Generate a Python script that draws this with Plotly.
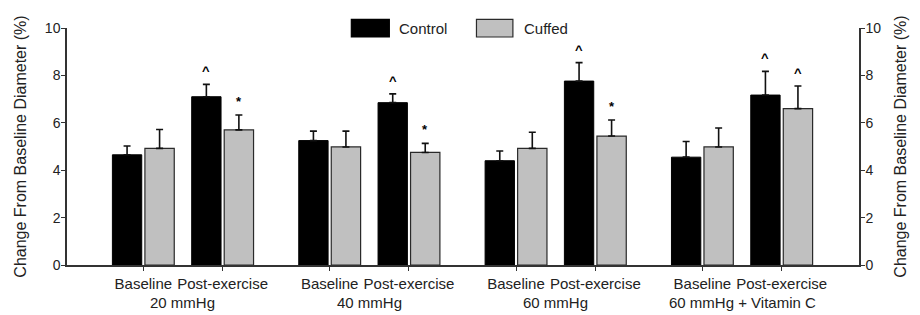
import plotly.graph_objects as go

# ---------------- data ----------------
groups = ["20 mmHg", "40 mmHg", "60 mmHg", "60 mmHg + Vitamin C"]
phases = ["Baseline", "Post-exercise"]

control = [4.65, 7.10, 5.25, 6.85, 4.40, 7.76, 4.55, 7.17]
control_err = [0.37, 0.52, 0.40, 0.37, 0.41, 0.78, 0.66, 1.00]
cuffed = [4.92, 5.70, 4.98, 4.75, 4.92, 5.44, 4.98, 6.60]
cuffed_err = [0.80, 0.63, 0.67, 0.38, 0.68, 0.68, 0.80, 0.95]
control_sig = ["", "^", "", "^", "", "^", "", "^"]
cuffed_sig = ["", "*", "", "*", "", "*", "", "^"]

y_ticks = [0, 2, 4, 6, 8, 10]
y_title = "Change From Baseline Diameter (%)"

# ---------------- layout helpers ----------------
GROUP_STEP = 2.35
BAR_W = 0.37
FONT = "Liberation Sans, Arial, sans-serif"
AXIS_COL = "#333333"
TEXT_COL = "#222222"

xpos = [g * GROUP_STEP + p for g in range(len(groups)) for p in range(len(phases))]
xlabels = [ph for _ in groups for ph in phases]

fig = go.Figure()

fig.add_trace(go.Bar(
    name="Control", x=xpos, y=control,
    width=BAR_W, offset=-0.39,
    marker=dict(color="#000000", line=dict(color="#000000", width=1)),
    error_y=dict(type="data", array=control_err, arrayminus=[0] * len(control),
                 symmetric=False, color="#111111", thickness=1.6, width=3.5),
    hoverinfo="x+y",
))
fig.add_trace(go.Bar(
    name="Cuffed", x=xpos, y=cuffed,
    width=BAR_W, offset=0.02,
    marker=dict(color="#c0c0c0", line=dict(color="#2a2a2a", width=1.2)),
    error_y=dict(type="data", array=cuffed_err, arrayminus=[0] * len(cuffed),
                 symmetric=False, color="#111111", thickness=1.6, width=3.5),
    hoverinfo="x+y",
))
# invisible trace so the right-hand axis is drawn
fig.add_trace(go.Scatter(x=[xpos[0]], y=[0], yaxis="y2", mode="markers",
                         marker=dict(opacity=0), showlegend=False, hoverinfo="skip"))

annotations = []
# significance markers
for i, x in enumerate(xpos):
    for vals, errs, sig, off in ((control, control_err, control_sig, -0.39),
                                 (cuffed, cuffed_err, cuffed_sig, 0.02)):
        if sig[i]:
            annotations.append(dict(
                x=x + off + BAR_W / 2, y=vals[i] + errs[i], xref="x", yref="y",
                text="<b>" + sig[i] + "</b>", showarrow=False, yanchor="bottom", yshift=4,
                font=dict(family=FONT, size=13, color="#000000")))
# group labels
for g, name in enumerate(groups):
    annotations.append(dict(
        x=g * GROUP_STEP + 0.5, y=0, xref="x", yref="paper",
        text=name, showarrow=False, yanchor="middle", yshift=-37,
        font=dict(family=FONT, size=15, color=TEXT_COL)))

# custom legend (wide rectangles like the original)
legend_items = [("Control", "#000000", "#000000", 0.359, 0.407, 0.417),
                ("Cuffed", "#c0c0c0", "#2a2a2a", 0.517, 0.563, 0.5745)]
shapes = []
for name, fill, line, x0, x1, xt in legend_items:
    shapes.append(dict(type="rect", xref="paper", yref="paper",
                       x0=x0, x1=x1, y0=0.962, y1=1.036,
                       fillcolor=fill, line=dict(color=line, width=1.2)))
    annotations.append(dict(x=xt, y=1.0, xref="paper", yref="paper", text=name,
                            showarrow=False, xanchor="left", yanchor="middle",
                            font=dict(family=FONT, size=15, color=TEXT_COL)))

axis_common = dict(range=[0, 10], tickvals=y_ticks, ticks="outside", ticklen=4,
                   tickwidth=1.3, tickcolor=AXIS_COL, showline=True, linecolor=AXIS_COL,
                   linewidth=1.5, showgrid=False, zeroline=False,
                   tickfont=dict(family=FONT, size=14, color=TEXT_COL),
                   title=dict(text=y_title, font=dict(family=FONT, size=16, color=TEXT_COL),
                              standoff=14))

# page body has an 8px default margin, so the figure is 8px smaller than the window
fig.update_layout(
    width=912, height=307,
    margin=dict(l=52, r=61, t=20, b=50),
    paper_bgcolor="white", plot_bgcolor="white",
    showlegend=False,
    xaxis=dict(range=[-0.9625, 9.025], tickvals=xpos, ticktext=xlabels,
               ticks="outside", ticklen=4, tickwidth=1.3, tickcolor=AXIS_COL,
               showline=True, linecolor=AXIS_COL, linewidth=1.5, showgrid=False,
               zeroline=False, tickfont=dict(family=FONT, size=15, color=TEXT_COL)),
    yaxis=dict(**axis_common, side="left", ticklabelstandoff=-2),
    yaxis2=dict(**axis_common, side="right", overlaying="y", ticklabelstandoff=-2),
    annotations=annotations,
    shapes=shapes,
)

fig.write_html("out.html")
